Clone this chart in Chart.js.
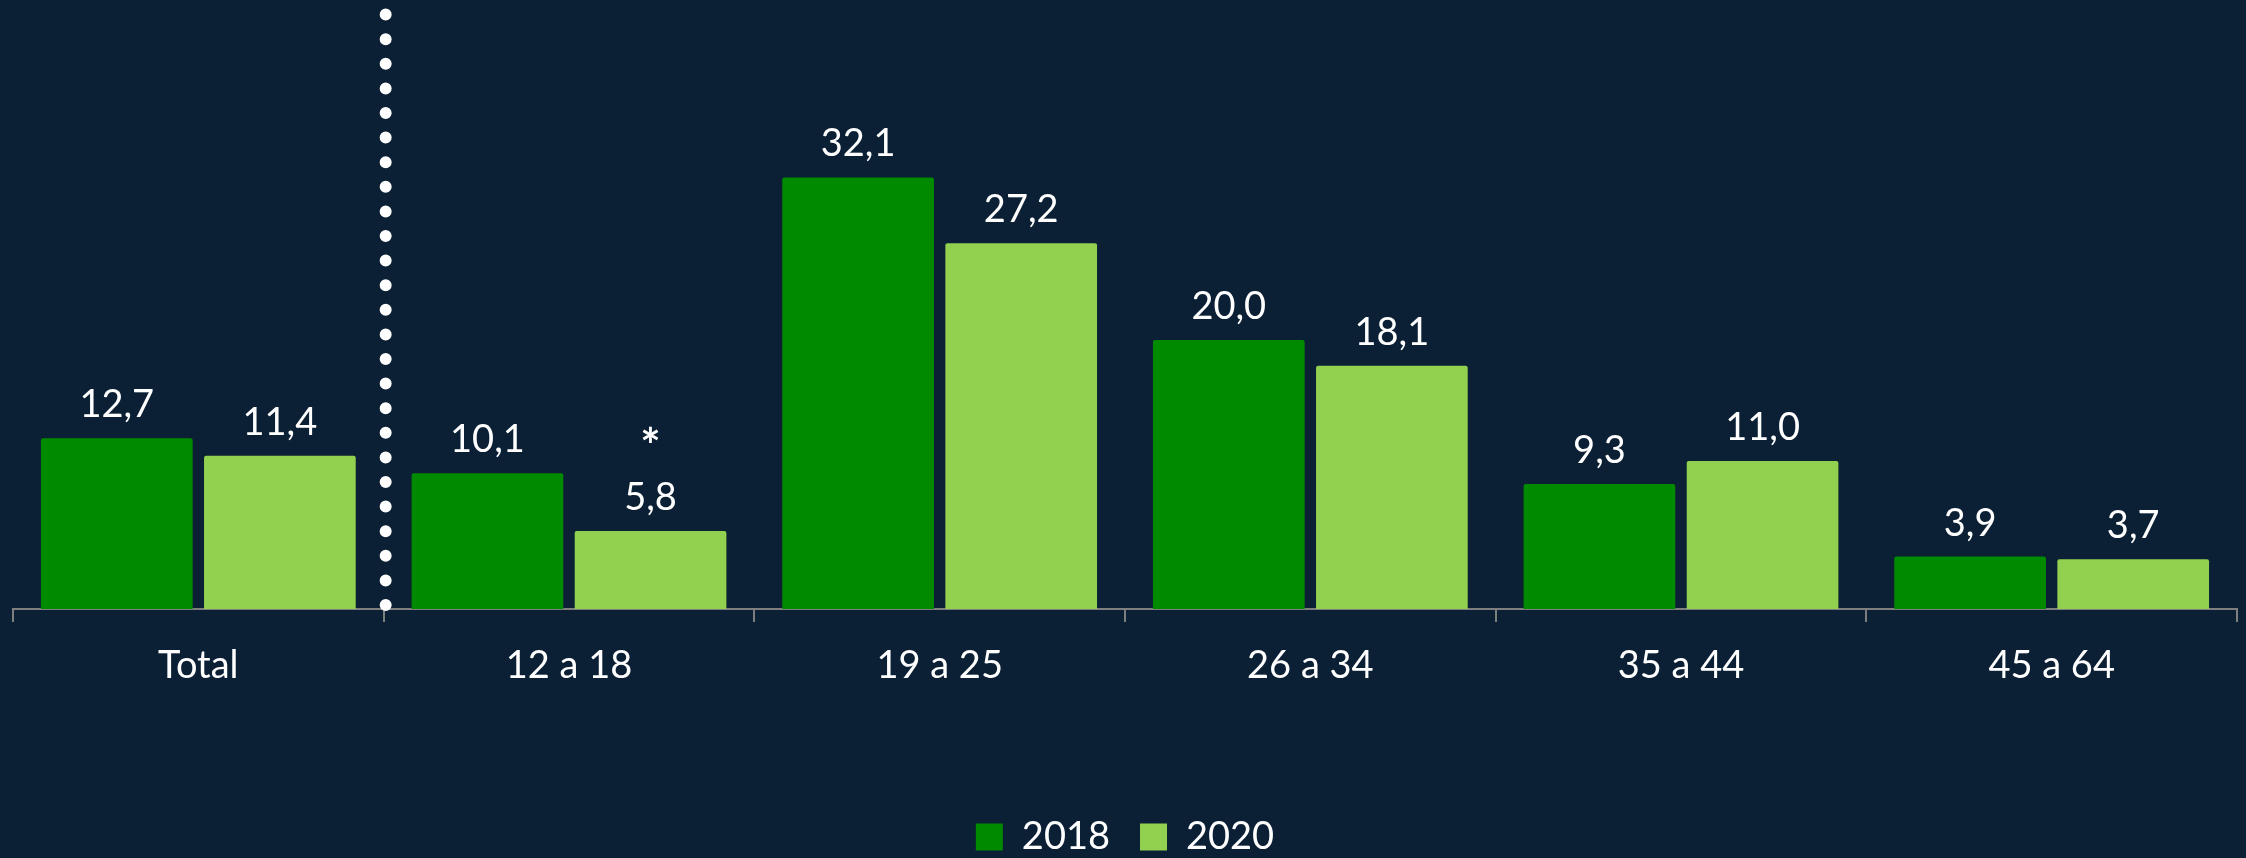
<!DOCTYPE html>
<html>
<head>
<meta charset="utf-8">
<title>2018 vs 2020 por faixa etária</title>
<script src="https://cdn.jsdelivr.net/npm/chart.js@4/dist/chart.umd.min.js"></script>
<style>
  html, body { margin: 0; padding: 0; background: #0b2035; overflow: hidden; }
  #wrap { width: 2246px; height: 858px; overflow: hidden; }
</style>
</head>
<body>
<div id="wrap"><canvas id="chart" width="2246" height="866"></canvas></div>
<script>
const categories = ['Total', '12 a 18', '19 a 25', '26 a 34', '35 a 44', '45 a 64'];
const values2018 = [12.7, 10.1, 32.1, 20.0, 9.3, 3.9];
const values2020 = [11.4, 5.8, 27.2, 18.1, 11.0, 3.7];
const notes2020 = ['', '*', '', '', '', ''];

const dark = '#008a00';
const light = '#92d050';
const font = 'Lato';

let fmt = v => v.toFixed(1).replace('.', ',');

// value labels on top of each bar, plus the asterisk note
const labelsPlugin = {
  id: 'barLabels',
  afterDatasetsDraw(chart) {
    const ctx = chart.ctx;
    ctx.save();
    ctx.fillStyle = '#ffffff';
    ctx.textAlign = 'center';
    ctx.textBaseline = 'alphabetic';
    chart.data.datasets.forEach((ds, i) => {
      chart.getDatasetMeta(i).data.forEach((bar, j) => {
        ctx.font = `38px ${font}`;
        ctx.fillText(fmt(ds.data[j]), bar.x, bar.y - 21);
        if (ds.notes && ds.notes[j]) {
          ctx.font = `bold 48px ${font}`;
          ctx.fillText(ds.notes[j], bar.x, bar.y - 68);
        }
      });
    });
    ctx.restore();
  }
};

// dotted separator between Total and the age groups
const dividerPlugin = {
  id: 'divider',
  afterDatasetsDraw(chart) {
    const {ctx, scales: {x, y}} = chart;
    let px = x.getPixelForValue(0.5) + 2;
    ctx.save();
    ctx.strokeStyle = '#ffffff';
    ctx.lineWidth = 12;
    ctx.lineCap = 'round';
    ctx.setLineDash([0, 24.6]);
    ctx.beginPath();
    ctx.moveTo(px, y.getPixelForValue(0) - 4);
    ctx.lineTo(px, y.getPixelForValue(44.6));
    ctx.stroke();
    ctx.restore();
  }
};

Chart.defaults.font.family = font;
Chart.defaults.color = '#ffffff';

let chart = new Chart(document.getElementById('chart').getContext('2d'), {
  type: 'bar',
  data: {
    labels: categories,
    datasets: [
      { label: '2018', data: values2018, backgroundColor: dark, borderRadius: 2 },
      { label: '2020', data: values2020, notes: notes2020, backgroundColor: light, borderRadius: 2 }
    ]
  },
  options: {
    responsive: false,
    animation: false,
    layout: { padding: { top: 4, left: 13, right: 9, bottom: 0 } },
    datasets: { bar: { categoryPercentage: 0.88, barPercentage: 0.93 } },
    scales: {
      x: {
        grid: { display: true, drawOnChartArea: false, offset: true, tickLength: 13, color: '#7f7f7f', lineWidth: 2 },
        border: { color: '#7f7f7f', width: 2 },
        ticks: { color: '#ffffff', font: { size: 38 }, padding: 21 },
        afterFit(scale) { scale.height = 179; }
      },
      y: { display: false, min: 0, max: 45 }
    },
    plugins: {
      legend: {
        position: 'bottom',
        labels: { color: '#ffffff', font: { size: 38 }, boxWidth: 27, boxHeight: 27, padding: 30 }
      },
      tooltip: { enabled: false }
    }
  },
  plugins: [labelsPlugin, dividerPlugin]
});
</script>
</body>
</html>
